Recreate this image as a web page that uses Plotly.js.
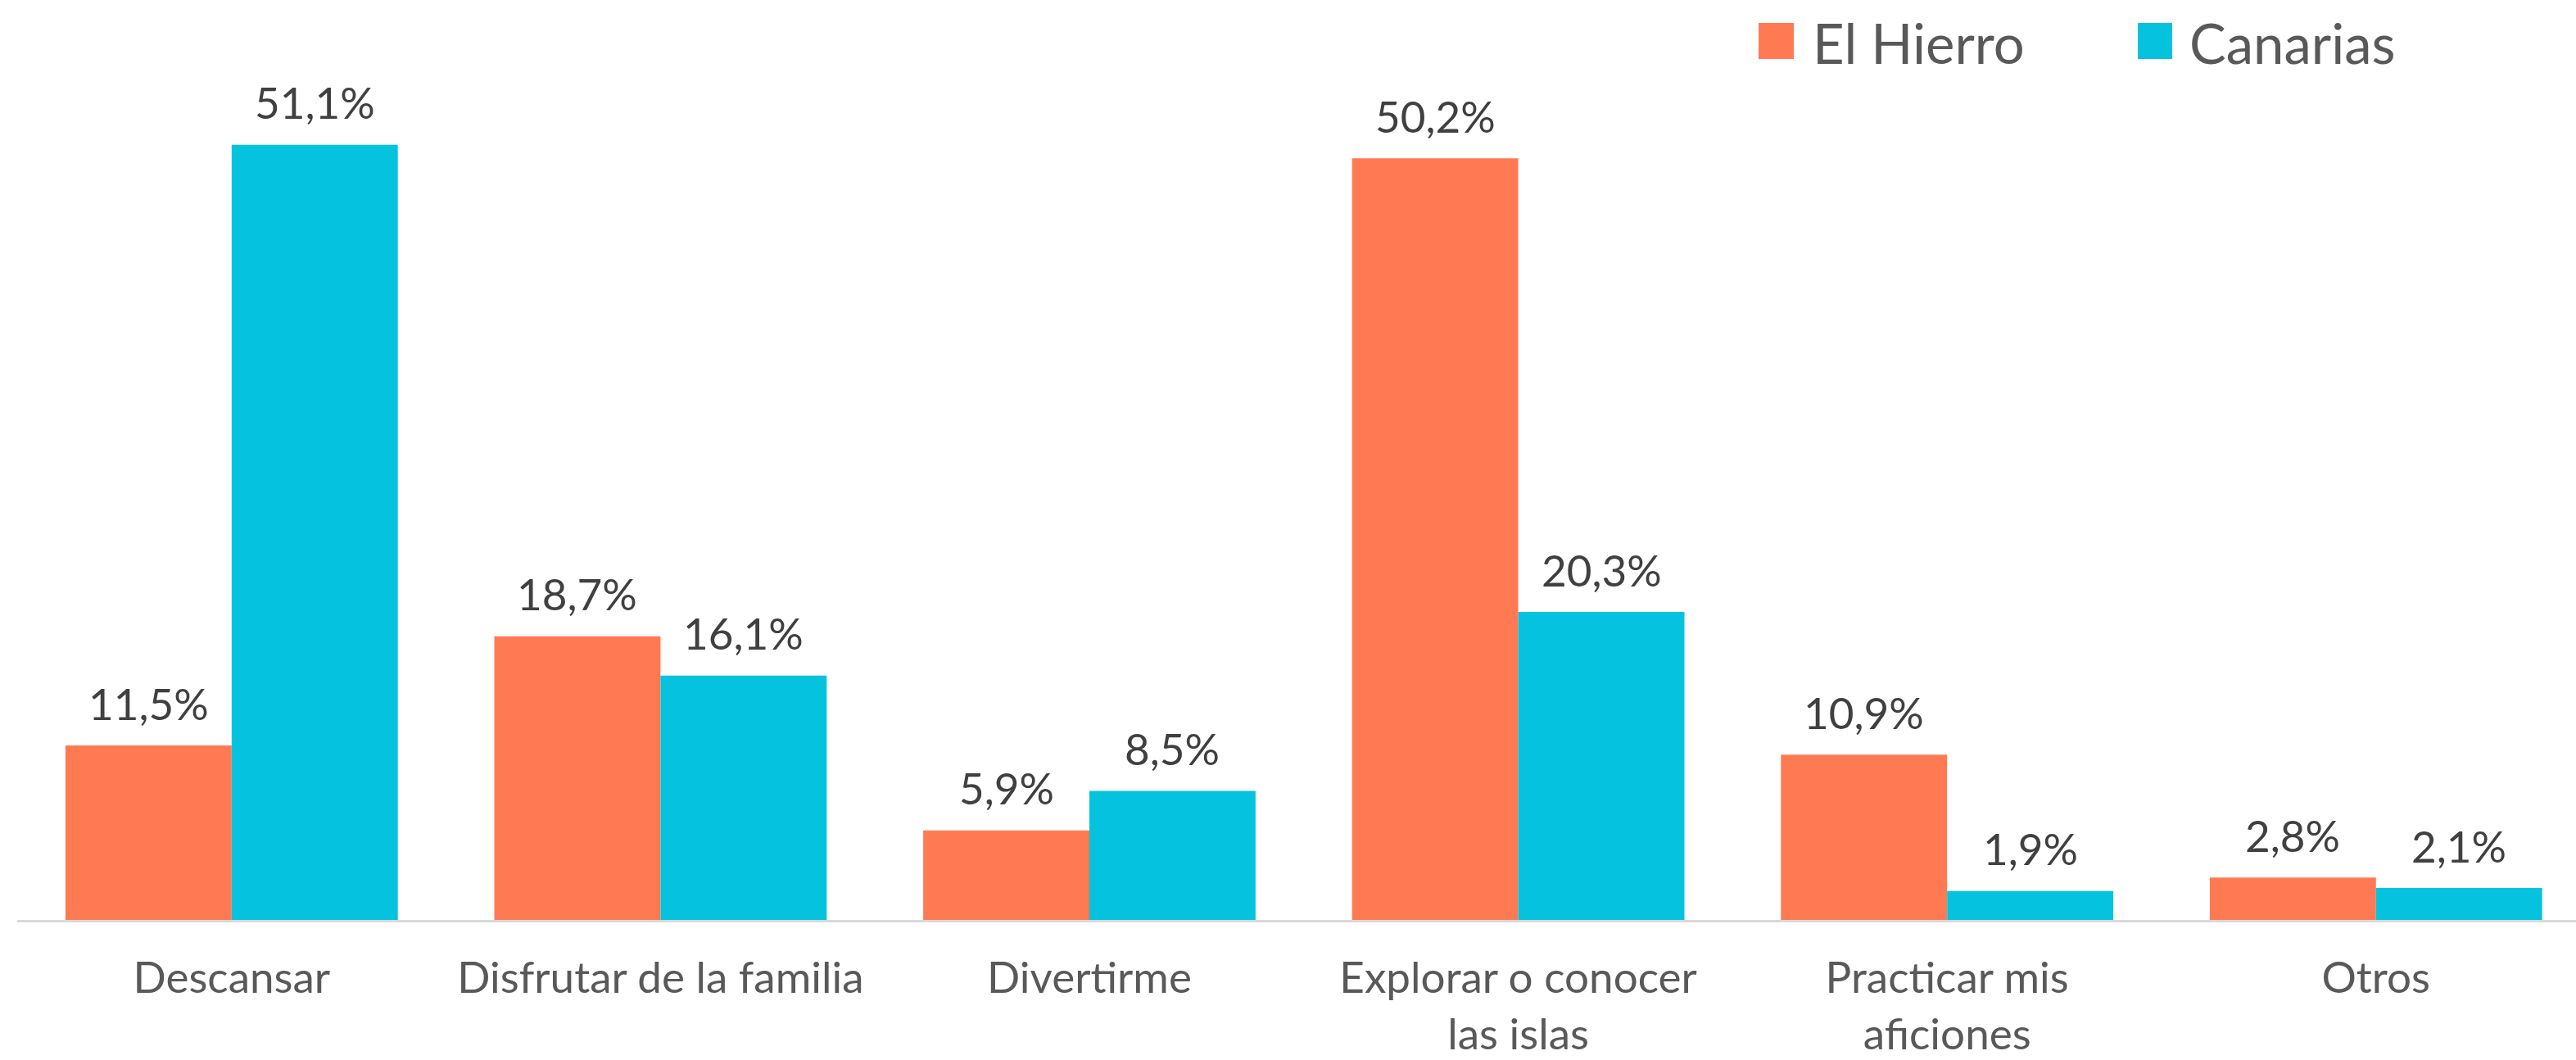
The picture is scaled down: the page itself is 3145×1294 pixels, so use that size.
<!DOCTYPE html>
<html>
<head>
<meta charset="utf-8">
<script src="https://cdn.plot.ly/plotly-3.0.1.min.js"></script>
<style>html,body{margin:0;padding:0;background:#fff;}#chart{width:3145px;height:1294px;}</style>
</head>
<body>
<div id="chart"></div>
<script>
const categories = ["Descansar", "Disfrutar de la familia", "Divertirme", "Explorar o conocer<br>las islas", "Practicar mis<br>aficiones", "Otros"];
const seriesNames = ["El Hierro", "Canarias"];
const elHierro = [11.5, 18.7, 5.9, 50.2, 10.9, 2.8];
const canarias = [51.1, 16.1, 8.5, 20.3, 1.9, 2.1];
const colors = ["#FF7A53", "#05C3DE"];

const W = 3145, H = 1294;
const mL = 21, mR = 0, mT = 60, mB = 171;
const plotW = W - mL - mR, plotH = H - mT - mB;
const bargap = 0.225;
const barW = (1 - bargap) / 2;
const pxX = p => (p - mL) / plotW;
const pxY = p => (H - mB - p) / plotH;
const fmt = v => v.toFixed(1).replace('.', ',') + '%';
const FONT = "Lato, 'Open Sans', sans-serif";

const seriesVals = [elHierro, canarias];
const traces = seriesVals.map((vals, s) => ({
  type: 'bar',
  name: seriesNames[s],
  x: categories,
  y: vals,
  marker: {color: colors[s], line: {width: 0}},
  hoverinfo: 'none'
}));

const annotations = [];
seriesVals.forEach((vals, s) => {
  vals.forEach((v, i) => {
    annotations.push({
      xref: 'x', yref: 'y',
      x: i + (s === 0 ? -barW / 2 : barW / 2),
      y: v,
      text: fmt(v),
      showarrow: false,
      yanchor: 'middle', xanchor: 'center',
      yshift: 52,
      font: {family: FONT, size: 53, color: '#404040'}
    });
  });
});

// custom legend
const legendItems = [
  {sq: [2147, 2190], tx: 2211},
  {sq: [2610, 2652], tx: 2671}
];
const shapes = [];
legendItems.forEach((it, s) => {
  shapes.push({
    type: 'rect', xref: 'paper', yref: 'paper',
    x0: pxX(it.sq[0]), x1: pxX(it.sq[1]), y0: pxY(72), y1: pxY(28),
    fillcolor: colors[s], line: {width: 0}
  });
  annotations.push({
    xref: 'paper', yref: 'paper', x: pxX(it.tx), y: pxY(52),
    xanchor: 'left', yanchor: 'middle', showarrow: false,
    text: seriesNames[s],
    font: {family: FONT, size: 67, color: '#595959'}
  });
});

const layout = {
  width: W, height: H,
  margin: {l: mL, r: mR, t: mT, b: mB, pad: 0},
  paper_bgcolor: '#ffffff', plot_bgcolor: '#ffffff',
  barmode: 'group', bargap: bargap, bargroupgap: 0,
  showlegend: false,
  font: {family: FONT},
  xaxis: {
    type: 'category',
    range: [-0.5, -0.5 + plotW / 523.6],
    showline: true, linecolor: '#D9D9D9', linewidth: 2.5,
    showgrid: false, zeroline: false, ticks: '',
    tickfont: {family: FONT, size: 53, color: '#595959'},
    ticklabelstandoff: 23,
    fixedrange: true
  },
  yaxis: {
    range: [0, plotH / 18.52],
    visible: false, showgrid: false, zeroline: false,
    fixedrange: true
  },
  annotations: annotations,
  shapes: shapes
};

Plotly.newPlot('chart', traces, layout, {displayModeBar: false, staticPlot: true});
</script>
</body>
</html>
